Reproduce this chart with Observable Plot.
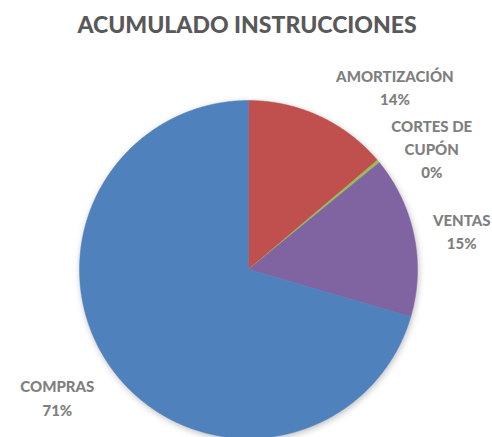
<!DOCTYPE html>
<html><head><meta charset="utf-8">
<script src="https://cdn.jsdelivr.net/npm/d3@7"></script>
<script src="https://cdn.jsdelivr.net/npm/@observablehq/plot@0.6"></script>
<style>
body{margin:0;background:#fff;width:492px;height:437px;overflow:hidden;font-family:Lato,"Open Sans",sans-serif}
#title{height:48px;line-height:48px;text-align:center;font-weight:900;font-size:23px;color:#595959;padding-left:2px}
</style>
</head><body>
<div id="title"></div>
<div id="chart"></div>
<script>
const title = "ACUMULADO INSTRUCCIONES";
const categories = ["AMORTIZACIÓN", "CORTES DE CUPÓN", "VENTAS", "COMPRAS"];
const labelLines = ["AMORTIZACIÓN", "CORTES DE\nCUPÓN", "VENTAS", "COMPRAS"];
const values = [13.8, 0.3, 15.4, 70.5];
const pctLabels = ["14%", "0%", "15%", "71%"];
const colors = ["#C0504D", "#9BBB59", "#8064A2", "#4F81BD"];

document.getElementById("title").textContent = title;

// layout
const W = 492, H = 389, cx = 248, cy = 221, r = 169;
const labelNudge = [[67, -12], [38, -1], [28, -2], [-40, 13.5]];

const slices = d3.pie().sort(null).value(d => d.value)(
  categories.map((c, i) => ({category: c, value: values[i], i}))
);

const pts = [];
slices.forEach(s => {
  const c = s.data.category;
  pts.push({category: c, x: cx, y: cy});
  const n = Math.max(2, Math.ceil((s.endAngle - s.startAngle) / 0.005));
  for (let k = 0; k <= n; k++) {
    const a = s.startAngle + (s.endAngle - s.startAngle) * k / n;
    pts.push({category: c, x: cx + r * Math.sin(a), y: cy - r * Math.cos(a)});
  }
  pts.push({category: c, x: cx, y: cy});
});

const labels = slices.map((s, i) => {
  const a = (s.startAngle + s.endAngle) / 2;
  const R = r + 20;
  return {
    text: labelLines[i] + "\n" + pctLabels[i],
    x: cx + R * Math.sin(a) + labelNudge[i][0],
    y: cy - R * Math.cos(a) + labelNudge[i][1]
  };
});

const plot = Plot.plot({
  width: W, height: H,
  margin: 0,
  x: {domain: [0, W], range: [0, W], axis: null},
  y: {domain: [0, H], range: [0, H], axis: null},
  color: {domain: categories, range: colors},
  marks: [
    Plot.line(pts, {x: "x", y: "y", z: "category", fill: "category", stroke: "category", strokeWidth: 0.5, curve: "linear"}),
    Plot.text(labels, {x: "x", y: "y", text: "text", fill: "#7F7F7F", fontWeight: 900, fontSize: 15, lineAnchor: "middle", lineHeight: 1.55, textAnchor: "middle", fontFamily: "Lato"})
  ],
  style: {fontFamily: "Lato", background: "#fff"}
});
document.getElementById("chart").appendChild(plot);
const g = plot.querySelector('g[aria-label="line"]');
if (g) g.style.filter = "drop-shadow(1px 2px 3px rgba(0,0,0,0.25))";
</script>
</body></html>
